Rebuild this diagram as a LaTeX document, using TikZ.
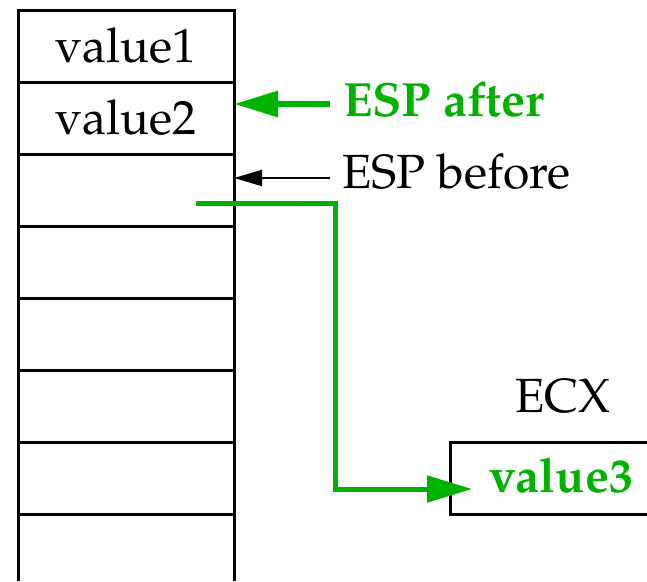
\documentclass[tikz,border=0pt]{standalone}
\usepackage[T1]{fontenc}
\usepackage{mathpazo}
\usetikzlibrary{positioning}
\usetikzlibrary{arrows.meta}
\definecolor{espgreen}{RGB}{0,178,0}
\tikzset{
	stack_c/.style = {draw=black, line width=3pt, rectangle, inner sep=0pt,
		outer sep=0pt, minimum width=216pt, minimum height=72pt,
		font=\fontsize{48}{56}\selectfont},% case de la pile
	lbl/.style = {inner sep=0pt, font=\fontsize{48}{56}\selectfont},% texte
	lbl_g/.style = {inner sep=0pt, text=espgreen,
		font=\fontsize{48}{56}\selectfont\bfseries},% texte vert
	ptr_g/.style = {espgreen, line width=6pt,
		-{Triangle[length=44pt, width=25pt]}},% fleche verte
	ptr_n/.style = {black, line width=2pt,
		-{Triangle[length=28pt, width=16pt]}},% fleche noire
	move_g/.style = {espgreen, line width=5pt,
		-{Triangle[length=45pt, width=26pt]}}% transfert vers ECX
}
\begin{document}
\begin{tikzpicture}[x=1pt, y=-1pt]
	\useasboundingbox (0,0) rectangle (647,581);
	\node [stack_c] (c1) at (126,46) {value1};
	\node [stack_c, below=0pt of c1] (c2) {value2};
	\foreach \i [count=\j from 2] in {3,...,7}
		\node [stack_c, below=0pt of c\j] (c\i) {};
	\coordinate (bl) at (18,581);
	\coordinate (br) at (234,581);
	\draw [line width=3pt] (c7.south west) -- (bl) (c7.south east) -- (br);
	% pointeurs ESP
	\node [lbl_g, anchor=base west] (after) at (343,116) {ESP after};
	\node [lbl, anchor=base west] (before) at (342,188) {ESP before};
	\coordinate (aft_t) at (330,104);
	\coordinate (bef_t) at (330,178);
	\draw [ptr_g] (aft_t) -- (c2.east |- aft_t);
	\draw [ptr_n] (bef_t) -- (c3.east |- bef_t);
	% registre ECX
	\node [lbl, anchor=base] (ecx) at (563,412) {ECX};
	\node [minimum width=197pt, minimum height=72pt, inner sep=0pt, outer sep=0pt] (reg) at (548.5,478) {};
	\draw [line width=3pt] (reg.north east) -- (reg.north west) -- (reg.south west) -- (reg.south east);
	\node [lbl_g, anchor=base] (v3) at (561,492) {value3};
	\coordinate (src) at (196,203);
	\coordinate (bend) at (335,203);
	\coordinate (dst) at (472,489);
	\draw [move_g] (src) -- (bend) |- (dst);
\end{tikzpicture}
\end{document}
